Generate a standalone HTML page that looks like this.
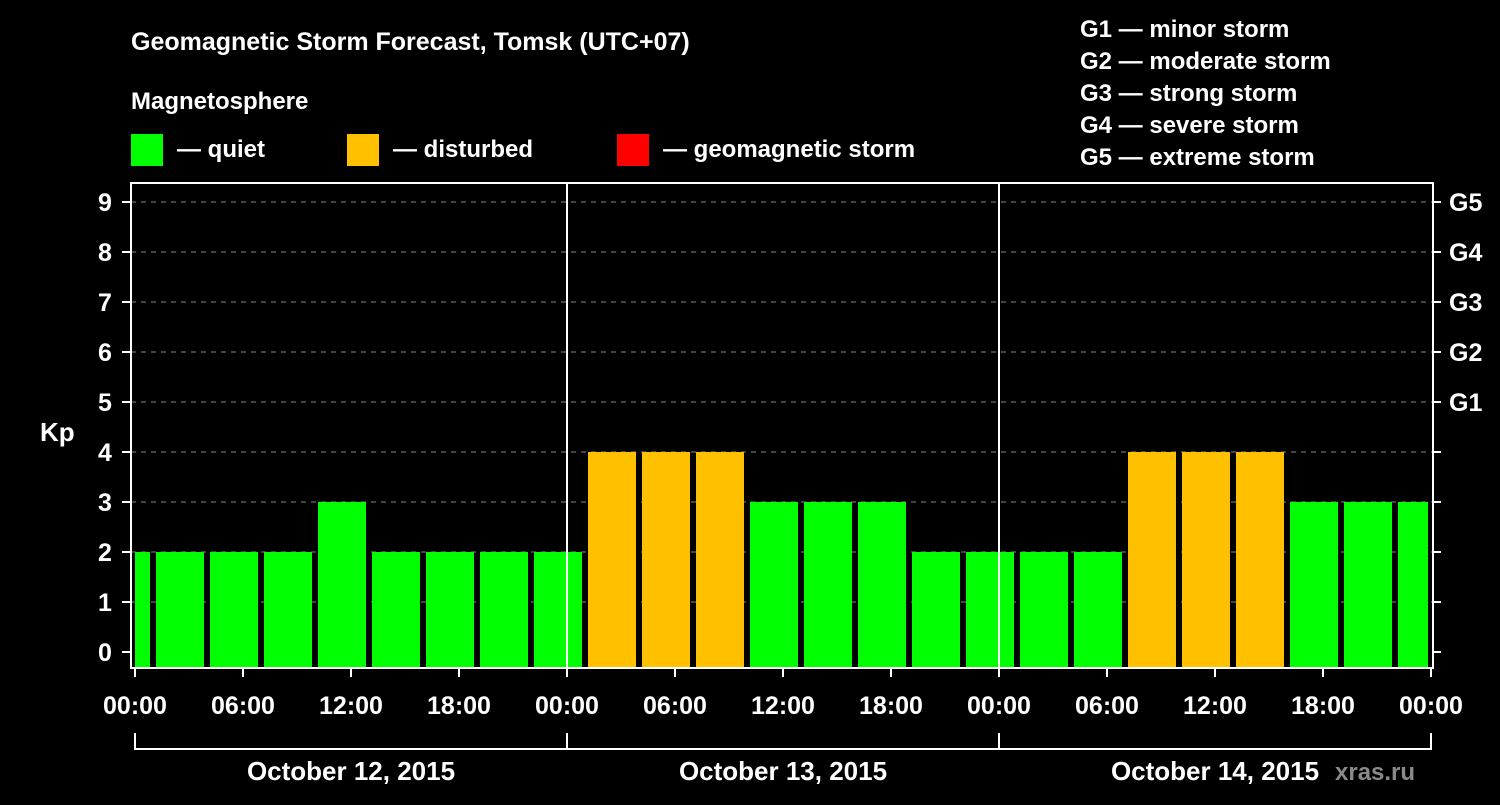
<!DOCTYPE html>
<html><head><meta charset="utf-8"><style>
body{margin:0;background:#000;width:1500px;height:800px;overflow:hidden}
svg text{font-family:"Liberation Sans",sans-serif;font-weight:bold;fill:#fff}
</style></head><body>
<svg id="c" width="1500" height="800">
<text x="131" y="50" font-size="25">Geomagnetic Storm Forecast, Tomsk (UTC+07)</text>
<text x="131" y="109" font-size="24">Magnetosphere</text>
<g><rect x="131" y="134" width="32" height="32" fill="#00ff00"/><text x="177" y="157" font-size="24">— quiet</text></g>
<g><rect x="347" y="134" width="32" height="32" fill="#ffc000"/><text x="393" y="157" font-size="24">— disturbed</text></g>
<g><rect x="617" y="134" width="32" height="32" fill="#ff0000"/><text x="663" y="157" font-size="24">— geomagnetic storm</text></g>
<g font-size="24">
<text x="1080" y="37">G1 — minor storm</text><text x="1080" y="69">G2 — moderate storm</text><text x="1080" y="101">G3 — strong storm</text><text x="1080" y="133">G4 — severe storm</text><text x="1080" y="165">G5 — extreme storm</text></g>
<text x="40" y="441" font-size="26">Kp</text>
<text x="1335" y="780" font-size="24" fill="#888" style="fill:#8a8a8a">xras.ru</text>
<g id="g"></g>
</svg>
<script>
const kpValues=[2,2,2,2,3,2,2,2,2,4,4,4,3,3,3,2,2,2,2,4,4,4,3,3,3];
const kpTicks=[0,1,2,3,4,5,6,7,8,9];
const gLabels=["G1","G2","G3","G4","G5"];
const timeLabels=["00:00","06:00","12:00","18:00","00:00","06:00","12:00","18:00","00:00","06:00","12:00","18:00","00:00"];
const dayLabels=["October 12, 2015","October 13, 2015","October 14, 2015"];
const NS="http://www.w3.org/2000/svg",G=document.getElementById('g');
const L=131,R=1433,T=183,B=668,x0=135,pxH=18;
const X=h=>x0+h*pxH, Y=v=>652-v*50;
function mk(t,a,txt){const e=document.createElementNS(NS,t);for(const k in a)e.setAttribute(k,a[k]);if(txt!=null)e.textContent=txt;G.appendChild(e);return e;}
kpTicks.forEach(v=>{if(v>0){const gl=mk('line',{x1:L,x2:R,y1:Y(v),y2:Y(v),stroke:'#888','stroke-dasharray':'5,5'});

}
const t=mk('text',{x:105,y:Y(v)+9,'font-size':25,'text-anchor':'middle'},v);


mk('line',{x1:122,x2:L,y1:Y(v),y2:Y(v),stroke:'#fff','stroke-width':2});
mk('line',{x1:R,x2:1441,y1:Y(v),y2:Y(v),stroke:'#fff','stroke-width':2});});
gLabels.forEach((g,i)=>{const t=mk('text',{x:1449,y:Y(i+5)+9,'font-size':25},g);

});
kpValues.forEach((v,i)=>{let s=X(-2+3*i)+3,e=X(1+3*i)-3;s=Math.max(s,x0);e=Math.min(e,R-5);
const b=mk('rect',{x:s,y:Y(v),width:e-s,height:B-Y(v),fill:v>=5?'#ff0000':v>=4?'#ffc000':'#00ff00'});

});
[1,2].forEach(d=>{const l=mk('line',{x1:X(24*d),x2:X(24*d),y1:T,y2:B,stroke:'#fff','stroke-width':2});

});
mk('rect',{x:L,y:T,width:R-L,height:B-T,fill:'none',stroke:'#fff','stroke-width':2});
timeLabels.forEach((t,i)=>{const x=X(6*i);mk('line',{x1:x,x2:x,y1:B,y2:677,stroke:'#fff','stroke-width':2});
const e=mk('text',{x:x,y:714,'font-size':25,'text-anchor':'middle'},t);

});
mk('path',{d:`M${X(0)} 733V749H${X(72)}V733`,fill:'none',stroke:'#fff','stroke-width':2});
[1,2].forEach(d=>mk('line',{x1:X(24*d),x2:X(24*d),y1:733,y2:749,stroke:'#fff','stroke-width':2}));
dayLabels.forEach((t,i)=>{const e=mk('text',{x:X(24*i+12),y:780,'font-size':26,'text-anchor':'middle'},t);

});
</script>
</body></html>
